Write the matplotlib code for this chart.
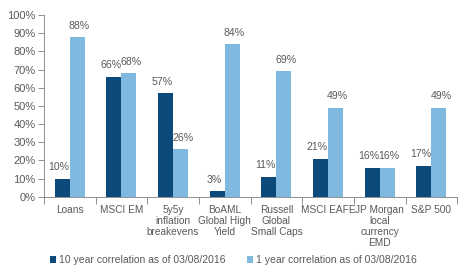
import numpy as np
import matplotlib
matplotlib.use("Agg")
import matplotlib.pyplot as plt

categories = ["Loans", "MSCI EM", "5y5y\ninflation\nbreakevens", "BoAML\nGlobal High\nYield",
              "Russell\nGlobal\nSmall Caps", "MSCI EAFE", "JP Morgan\nlocal\ncurrency\nEMD", "S&P 500"]
ten_year = [10, 66, 57, 3, 11, 21, 16, 17]
one_year = [88, 68, 26, 84, 69, 49, 16, 49]
series_labels = ["10 year correlation as of 03/08/2016", "1 year correlation as of 03/08/2016"]

DARK = "#0d4a7c"
LIGHT = "#7fb9e0"
TXT = "#595959"

plt.rcParams["font.family"] = ["Liberation Sans", "DejaVu Sans"]

fig = plt.figure(figsize=(4.67, 2.79), dpi=100)
ax = fig.add_axes([0.094, 0.295, 0.885, 0.651])

x = np.arange(len(categories))
w = 0.29
b1 = ax.bar(x - w / 2, ten_year, w, color=DARK, zorder=3, label=series_labels[0])
b2 = ax.bar(x + w / 2, one_year, w, color=LIGHT, zorder=2, label=series_labels[1])

for xi, v in zip(x, ten_year):
    ax.text(xi - w / 2 - 0.06, v + 3.5, f"{v}%", ha="center", va="bottom", fontsize=7.6,
            color=TXT, zorder=4)
for xi, v in zip(x, one_year):
    ax.text(xi + w / 2 + 0.04, v + 3.5, f"{v}%", ha="center", va="bottom", fontsize=7.6,
            color=TXT, zorder=2.5)

ax.set_xlim(-0.5, len(categories) - 0.5)
ax.set_ylim(0, 100)
ax.set_yticks(np.arange(0, 101, 10))
ax.set_yticklabels([f"{t}%" for t in range(0, 101, 10)])
ax.tick_params(axis="y", labelsize=8, colors="#7f7f7f", labelcolor=TXT, length=4,
               width=0.6, pad=2, direction="out")

# category boundary ticks, labels centered under categories
ax.set_xticks(np.arange(-0.5, len(categories), 1.0))
ax.set_xticklabels([])
ax.tick_params(axis="x", length=5, width=0.6, colors="#7f7f7f", direction="out")
for xi, c in zip(x, categories):
    ax.text(xi, -4.5, c, ha="center", va="top", fontsize=7.3, color=TXT, linespacing=1.12,
            clip_on=False)

for s in ["top", "right"]:
    ax.spines[s].set_visible(False)
for s in ["left", "bottom"]:
    ax.spines[s].set_color("#7f7f7f")
    ax.spines[s].set_linewidth(0.6)

leg = fig.legend(handles=[b1, b2], loc="center", bbox_to_anchor=(0.5, 0.068), ncol=2,
                 frameon=False, fontsize=7.5, handlelength=0.6, handleheight=0.6,
                 handletextpad=0.3, columnspacing=2.0)
for t in leg.get_texts():
    t.set_color(TXT)

fig.savefig("out.png", dpi=100)
